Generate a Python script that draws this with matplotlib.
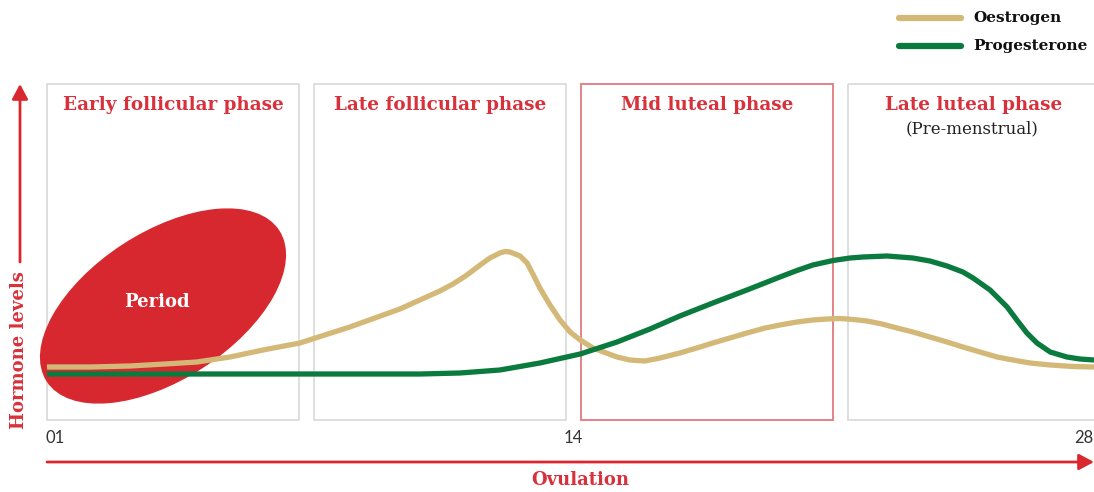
import matplotlib.pyplot as plt
from matplotlib.patches import Rectangle, Ellipse, FancyArrowPatch

# hormone curves, day of cycle vs relative level
oestrogen_day = [1.00, 2.11, 3.14, 4.04, 4.87, 5.72, 6.57, 7.52, 8.81, 10.10, 11.13, 11.47,
                 11.83, 12.17, 12.42, 12.68, 12.81, 12.94, 13.20, 13.38, 13.53, 13.71, 13.97,
                 14.23, 14.49, 14.75, 15.08, 15.39, 15.70, 16.03, 16.42, 16.81, 17.32, 17.84,
                 18.17, 18.61, 19.05, 19.52, 19.90, 20.34, 20.75, 21.11, 21.45, 21.79, 22.15,
                 22.53, 22.92, 23.33, 23.77, 24.21, 24.62, 25.06, 25.50, 25.91, 26.35, 26.87,
                 27.46, 28.00]
oestrogen_lvl = [53, 53, 54, 56, 58, 63, 70, 77, 93, 111, 129, 136,
                 145, 155, 162, 167, 168.5, 168, 164, 157, 146, 132, 115,
                 100, 88, 80, 72, 67.5, 63, 60, 59, 62, 67, 73,
                 77, 82, 87, 92, 95, 98, 100, 101, 101.5, 100.5, 99,
                 96, 92, 88, 83, 78, 73, 68, 63, 60, 57, 55,
                 53.5, 53]
progesterone_day = [1.00, 3.66, 6.23, 8.81, 10.62, 11.65, 12.68, 13.71, 14.75, 15.70, 16.55,
                    17.32, 18.17, 19.05, 19.90, 20.34, 20.75, 21.27, 21.71, 22.04, 22.66,
                    23.33, 23.77, 24.21, 24.62, 24.88, 25.32, 25.76, 26.01, 26.27, 26.53,
                    26.87, 27.30, 27.64, 28.00]
progesterone_lvl = [46, 46, 46, 46, 46, 47, 50, 57, 66, 78, 91,
                    104, 117, 130, 143, 149.5, 155, 159.5, 162, 163, 164,
                    162, 159, 154, 148, 142, 130, 113, 100, 87, 77,
                    68, 63, 61, 60]

phases = ["Early follicular phase", "Late follicular phase", "Mid luteal phase", "Late luteal phase"]
day_labels = ["01", "14", "28"]

RED = "#d9272f"
TXT_RED = "#d8313b"
TAN = "#d4b877"
GREEN = "#0b7a3e"
W, H = 1094, 492

fig = plt.figure(figsize=(W / 100, H / 100), dpi=100)
bg = fig.add_axes([0, 0, 1, 1])
bg.set_xlim(0, W)
bg.set_ylim(H, 0)
bg.axis("off")

serif = "DejaVu Serif"

# phase panels
box_x = [47, 314, 581, 848]
box_w = 252
for i, name in enumerate(phases):
    ec = "#e07a7e" if i == 2 else "#dcdcdc"
    bg.add_patch(Rectangle((box_x[i], 84), box_w if i < 3 else 260, 336, fill=False,
                           ec=ec, lw=1.3, zorder=1))
    bg.text(box_x[i] + 126, 105, name, color=TXT_RED, fontsize=13.2, fontweight="bold",
            family=serif, ha="center", va="center")
bg.text(972, 129, "(Pre-menstrual)", color="#222222", fontsize=12, family=serif,
        ha="center", va="center")

# period blob
bg.add_patch(Ellipse((163, 306), 276, 146, angle=-33, color="#d8282f", zorder=2))
bg.text(157, 302, "Period", color="white", fontsize=13, fontweight="bold", family=serif,
        ha="center", va="center", zorder=3)

# axis arrows
arrow = "-|>,head_length=6,head_width=3.2"
bg.add_patch(FancyArrowPatch((20, 262), (20, 84), arrowstyle=arrow,
                             color=RED, lw=2, mutation_scale=1.5, shrinkA=0, shrinkB=0))
bg.add_patch(FancyArrowPatch((47, 462), (1094, 462), arrowstyle=arrow,
                             color=RED, lw=2, mutation_scale=1.5, shrinkA=0, shrinkB=0))
bg.text(19, 350, "Hormone levels", rotation=90, color=TXT_RED, fontsize=13,
        fontweight="bold", family=serif, ha="center", va="center")
bg.text(580, 480, "Ovulation", color=TXT_RED, fontsize=13, fontweight="bold",
        family=serif, ha="center", va="center")

# day labels
bg.text(45, 438, day_labels[0], fontsize=12, color="#333333", family="Lato", ha="left", va="center")
bg.text(573, 438, day_labels[1], fontsize=12, color="#333333", family="Lato", ha="center", va="center")
bg.text(1093, 438, day_labels[2], fontsize=12, color="#333333", family="Lato", ha="right", va="center")

# data axes
ax = fig.add_axes([47 / W, 1 - 420 / H, (W - 47) / W, 336 / H])
ax.patch.set_alpha(0)
ax.set_xlim(1, 28)
ax.set_ylim(0, 336)
ax.axis("off")
ax.plot(oestrogen_day, oestrogen_lvl, color=TAN, lw=3.8, solid_capstyle="butt",
        solid_joinstyle="round", label="Oestrogen")
ax.plot(progesterone_day, progesterone_lvl, color=GREEN, lw=3.8, solid_capstyle="butt",
        solid_joinstyle="round", label="Progesterone")

# legend
for y, lab, c in [(18, "Oestrogen", TAN), (46, "Progesterone", GREEN)]:
    bg.plot([899, 961], [y, y], color=c, lw=4.5, solid_capstyle="round")
    bg.text(973, y, lab, fontsize=11, fontweight="bold", family=serif, color="#111111",
            ha="left", va="center")

fig.savefig("out.png", dpi=100)
